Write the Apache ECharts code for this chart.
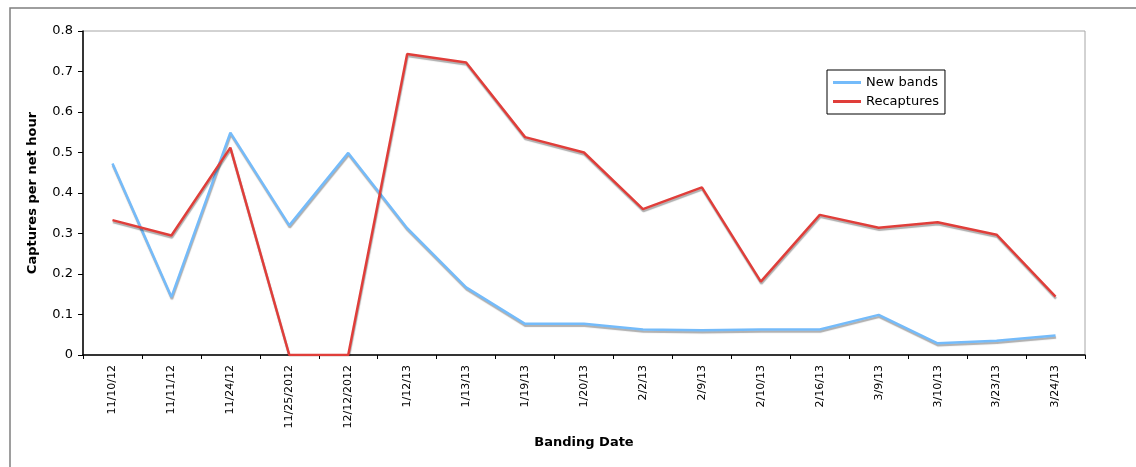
<!DOCTYPE html>
<html>
<head>
<meta charset="utf-8">
<script src="https://cdn.jsdelivr.net/npm/echarts@6/dist/echarts.min.js"></script>
<style>
  html, body { margin: 0; padding: 0; background: #fff; }
  #chart { width: 1136px; height: 467px; }
</style>
</head>
<body>
<div id="chart"></div>
<script>
// Banding dates (category axis)
const bandingDates = [
  '11/10/12', '11/11/12', '11/24/12', '11/25/2012', '12/12/2012',
  '1/12/13', '1/13/13', '1/19/13', '1/20/13', '2/2/13', '2/9/13',
  '2/10/13', '2/16/13', '3/9/13', '3/10/13', '3/23/13', '3/24/13'
];

// Captures per net hour
const newBands = [
  0.473, 0.143, 0.549, 0.320, 0.499,
  0.313, 0.167, 0.077, 0.077, 0.063, 0.061,
  0.063, 0.063, 0.099, 0.029, 0.035, 0.048
];
const recaptures = [
  0.333, 0.295, 0.512, 0, 0,
  0.743, 0.722, 0.538, 0.500, 0.360, 0.414,
  0.181, 0.346, 0.314, 0.328, 0.297, 0.144
];

const yTicks = { min: 0, max: 0.8, interval: 0.1 };

const FONT = 'DejaVu Sans, Verdana, sans-serif';
const BLUE = '#74BBFA';
const RED = '#E03E3A';

const chart = echarts.init(document.getElementById('chart'), null, { renderer: 'canvas' });

const lineShadow = {
  shadowColor: 'rgba(0,0,0,0.32)',
  shadowBlur: 1,
  shadowOffsetX: 0.5,
  shadowOffsetY: 2
};

chart.setOption({
  backgroundColor: '#fff',
  animation: false,
  graphic: [
    {
      // outer chart frame
      type: 'rect',
      shape: { x: 10, y: 8, width: 1140, height: 470 },
      style: { fill: 'none', stroke: '#7f7f7f', lineWidth: 1.5 },
      silent: true,
      z: -1
    }
  ],
  grid: {
    left: 83, top: 31, right: 51, bottom: 112,
    show: true,
    borderColor: '#a6a6a6',
    borderWidth: 1,
    backgroundColor: 'transparent'
  },
  legend: {
    orient: 'vertical',
    left: 827,
    top: 70,
    padding: [6, 6, 6, 6],
    itemGap: 6,
    itemWidth: 28,
    itemHeight: 3,
    icon: 'rect',
    borderColor: '#000',
    borderWidth: 1,
    backgroundColor: '#fff',
    textStyle: { fontFamily: FONT, fontSize: 13, color: '#000' },
    data: ['New bands', 'Recaptures']
  },
  xAxis: {
    type: 'category',
    data: bandingDates,
    boundaryGap: true,
    name: 'Banding Date',
    nameLocation: 'middle',
    nameGap: 80,
    nameTextStyle: { fontFamily: FONT, fontSize: 13, fontWeight: 'bold', color: '#000' },
    axisLine: { show: true, lineStyle: { color: '#000', width: 1.5 } },
    axisTick: { show: true, inside: false, length: 4, interval: 0, alignWithLabel: false, lineStyle: { color: '#000' } },
    axisLabel: {
      interval: 0,
      rotate: 90,
      margin: 10,
      fontFamily: FONT,
      fontSize: 11,
      color: '#000'
    },
    splitLine: { show: false }
  },
  yAxis: {
    type: 'value',
    min: yTicks.min,
    max: yTicks.max,
    interval: yTicks.interval,
    name: 'Captures per net hour',
    nameLocation: 'middle',
    nameRotate: 90,
    nameGap: 44,
    nameTextStyle: { fontFamily: FONT, fontSize: 13, fontWeight: 'bold', color: '#000' },
    axisLine: { show: true, lineStyle: { color: '#000', width: 1.5 } },
    axisTick: { show: true, inside: false, length: 5, lineStyle: { color: '#000' } },
    axisLabel: {
      margin: 10,
      fontFamily: FONT,
      fontSize: 13,
      color: '#000',
      formatter: v => (Math.round(v * 10) / 10).toString()
    },
    splitLine: { show: false }
  },
  series: [
    {
      name: 'New bands',
      type: 'line',
      data: newBands,
      symbol: 'none',
      color: BLUE,
      lineStyle: Object.assign({ color: BLUE, width: 2.5 }, lineShadow),
      z: 2
    },
    {
      name: 'Recaptures',
      type: 'line',
      data: recaptures,
      symbol: 'none',
      color: RED,
      lineStyle: Object.assign({ color: RED, width: 2.5 }, lineShadow),
      z: 3
    }
  ]
});
</script>
</body>
</html>
